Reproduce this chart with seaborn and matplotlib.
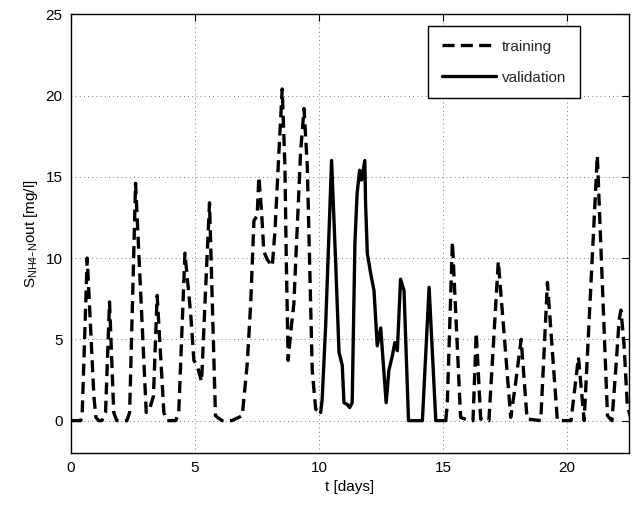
import matplotlib
matplotlib.use("Agg")
import matplotlib.pyplot as plt
from matplotlib.lines import Line2D
import seaborn as sns
import pandas as pd

# ---- data ----
train1_t = [0.00, 0.40, 0.46, 0.66, 0.93, 1.01, 1.13, 1.25, 1.40, 1.56, 1.73, 1.85, 2.26, 2.37,
            2.61, 3.04, 3.15, 3.33, 3.48, 3.75, 3.87, 4.23, 4.35, 4.60, 4.83, 4.96, 5.09, 5.27,
            5.43, 5.59, 5.83, 6.09, 6.49, 6.91, 7.11, 7.25, 7.38, 7.51, 7.58, 7.69, 7.78, 7.92,
            8.12, 8.23, 8.39, 8.52, 8.63, 8.68, 8.76, 8.86, 8.99, 9.12, 9.26, 9.40, 9.53, 9.73,
            9.87, 10.07]
train1_v = [0.0, 0.0, 0.5, 10.0, 1.5, 0.2, 0.0, 0.0, 0.5, 7.3, 0.5, 0.0, 0.0, 0.5,
            14.6, 0.5, 0.6, 1.5, 7.7, 0.5, 0.0, 0.0, 0.5, 10.3, 6.6, 3.7, 3.4, 2.4,
            8.0, 13.4, 0.3, 0.0, 0.0, 0.3, 3.5, 7.2, 12.3, 12.6, 15.0, 12.8, 10.4, 9.9,
            9.5, 11.7, 16.6, 20.4, 15.6, 10.3, 3.7, 5.4, 7.2, 11.7, 16.5, 19.2, 15.7, 3.1,
            0.7, 0.5]

valid_t = [10.07, 10.13, 10.27, 10.51, 10.67, 10.81, 10.94, 11.01, 11.14, 11.24, 11.34, 11.45,
           11.54, 11.64, 11.72, 11.85, 11.88, 11.95, 12.08, 12.22, 12.35, 12.49, 12.71, 12.82,
           12.96, 13.06, 13.16, 13.29, 13.43, 13.61, 14.17, 14.44, 14.71, 15.11]
valid_v = [0.5, 1.3, 5.8, 16.0, 9.9, 4.2, 3.4, 1.1, 1.0, 0.8, 1.1, 10.9,
           14.0, 15.4, 14.8, 16.0, 13.4, 10.3, 9.1, 8.0, 4.6, 5.7, 1.1, 3.1,
           4.0, 4.8, 4.3, 8.7, 8.0, 0.0, 0.0, 8.2, 0.0, 0.0]

train2_t = [15.11, 15.17, 15.38, 15.71, 16.05, 16.21, 16.34, 16.52, 16.85, 17.23, 17.73, 17.90,
            18.15, 18.39, 18.94, 19.21, 19.61, 20.16, 20.46, 20.69, 21.22, 21.63, 21.81, 21.98,
            22.10, 22.17, 22.22, 22.30, 22.43, 22.60]
train2_v = [0.0, 0.9, 11.0, 0.2, 0.0, 0.0, 5.4, 0.1, 0.0, 9.8, 0.2, 2.0,
            5.0, 0.1, 0.0, 8.5, 0.0, 0.0, 3.9, 0.0, 16.3, 0.3, 0.0, 3.5,
            6.2, 6.8, 6.0, 4.6, 0.9, 0.0]

x_ticks = [0, 5, 10, 15, 20]
y_ticks = [0, 5, 10, 15, 20, 25]

# ---- styling ----
sns.set_theme(style="white")
plt.rcParams["font.family"] = ["Liberation Sans", "DejaVu Sans"]
plt.rcParams["mathtext.default"] = "regular"

fig = plt.figure(figsize=(6.38, 5.08), dpi=100)
ax = fig.add_axes([0.111, 0.108, 0.875, 0.864])

train_df = pd.DataFrame({
    "t": train1_t + train2_t,
    "v": train1_v + train2_v,
    "seg": [0] * len(train1_t) + [1] * len(train2_t),
})
valid_df = pd.DataFrame({"t": valid_t, "v": valid_v})

n0 = len(ax.lines)
sns.lineplot(data=train_df, x="t", y="v", units="seg", estimator=None, color="black",
             linewidth=2.4, ax=ax, legend=False)
for ln in ax.lines[n0:]:
    ln.set_dashes((3.6, 1.9))
    ln.set_dash_capstyle("butt")
sns.lineplot(data=valid_df, x="t", y="v", estimator=None, color="black",
             linewidth=2.4, ax=ax, legend=False)

ax.set_xlim(0, 22.5)
ax.set_ylim(-2, 25)
ax.set_xticks(x_ticks)
ax.set_yticks(y_ticks)
ax.tick_params(direction="in", length=5, width=0.8, top=True, right=True,
               labelsize=11, colors="black", pad=6)
ax.grid(True, linestyle=(0, (1, 4)), color="black", linewidth=0.6, alpha=0.7)
for sp in ax.spines.values():
    sp.set_color("black")
    sp.set_linewidth(1.0)

ax.set_xlabel("t [days]", fontsize=11, color="black", labelpad=3)
ax.set_ylabel("S$_{NH4\u2013N}$out [mg/l]", fontsize=11, color="black", labelpad=4)

handles = [
    Line2D([], [], color="black", linewidth=2.4, dashes=(3.6, 1.9)),
    Line2D([], [], color="black", linewidth=2.4),
]
leg = ax.legend(handles, ["training", "validation"], loc="upper right",
                bbox_to_anchor=(0.912, 0.973), borderaxespad=0, fontsize=11,
                fancybox=False, framealpha=1, edgecolor="black", handlelength=3.5,
                handletextpad=0.4, labelspacing=1.1, borderpad=0.9)
leg.get_frame().set_linewidth(1.0)

fig.savefig("out.png", dpi=100)
